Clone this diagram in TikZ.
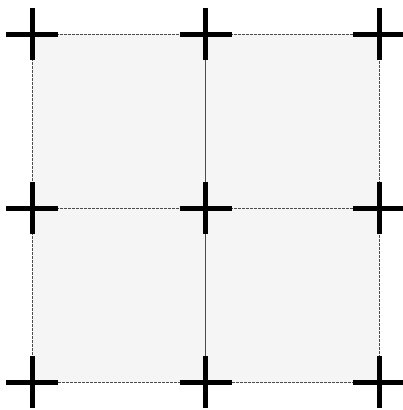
\documentclass[tikz,border=0pt]{standalone}
\begin{document}
\begin{tikzpicture}[x=1pt,y=-1pt,
  cell/.style={fill=black!4, draw=black!70, line width=0.6pt, dash pattern=on 3pt off 1pt},
  crossmark/.style={line width=5pt, black}]
\useasboundingbox (0,0) rectangle (403,410);
\foreach \i/\x in {0/32,1/205.5,2/379} {
  \foreach \j/\y in {0/34,1/208,2/382} {
    \coordinate (p\i\j) at (\x,\y);
  }
}
\fill[black!4] (p00) rectangle (p22);
\foreach \a/\b in {00/11,10/21,01/12,11/22} {
  \draw[cell] (p\a) rectangle (p\b);
}
\foreach \i in {0,1,2} {
  \foreach \j in {0,1,2} {
    \draw[crossmark] ([xshift=-26pt]p\i\j) -- ([xshift=26pt]p\i\j);
    \draw[crossmark] ([yshift=-26pt]p\i\j) -- ([yshift=26pt]p\i\j);
  }
}
\end{tikzpicture}
\end{document}
